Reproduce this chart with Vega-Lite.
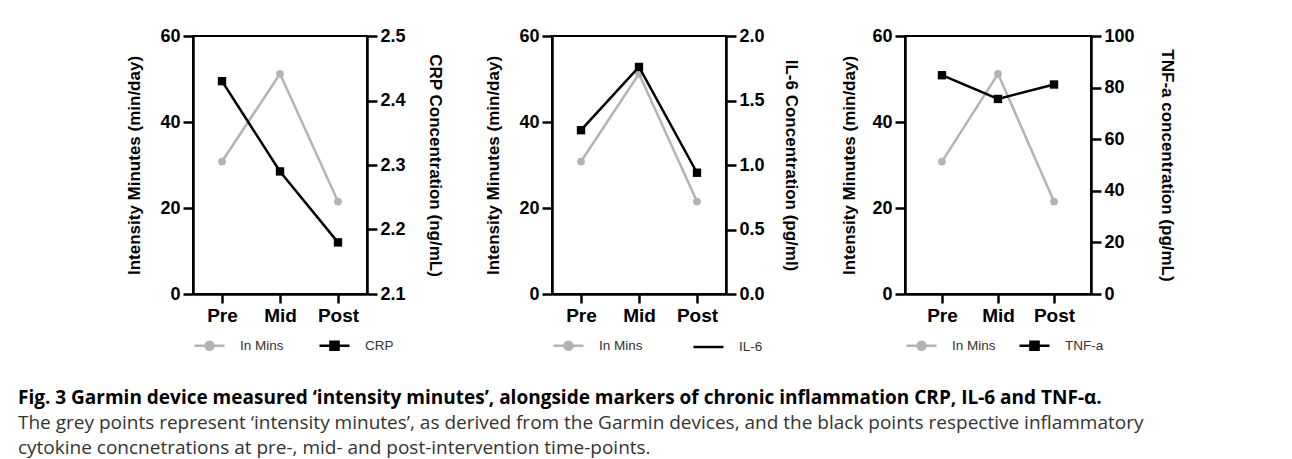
{
  "$schema": "https://vega.github.io/schema/vega-lite/v6.json",
  "padding": {"left": 17, "top": 26, "right": 5, "bottom": 2},
  "background": "white",
  "datasets": {
    "d": [
      {"panel": "CRP", "series": "In Mins", "time": "Pre", "value": 30.8},
      {"panel": "CRP", "series": "In Mins", "time": "Mid", "value": 51.2},
      {"panel": "CRP", "series": "In Mins", "time": "Post", "value": 21.5},
      {"panel": "CRP", "series": "CRP", "time": "Pre", "value": 2.43},
      {"panel": "CRP", "series": "CRP", "time": "Mid", "value": 2.29},
      {"panel": "CRP", "series": "CRP", "time": "Post", "value": 2.18},
      {"panel": "IL6", "series": "In Mins", "time": "Pre", "value": 30.8},
      {"panel": "IL6", "series": "In Mins", "time": "Mid", "value": 51.2},
      {"panel": "IL6", "series": "In Mins", "time": "Post", "value": 21.5},
      {"panel": "IL6", "series": "IL-6", "time": "Pre", "value": 1.27},
      {"panel": "IL6", "series": "IL-6", "time": "Mid", "value": 1.76},
      {"panel": "IL6", "series": "IL-6", "time": "Post", "value": 0.94},
      {"panel": "TNF", "series": "In Mins", "time": "Pre", "value": 30.8},
      {"panel": "TNF", "series": "In Mins", "time": "Mid", "value": 51.2},
      {"panel": "TNF", "series": "In Mins", "time": "Post", "value": 21.5},
      {"panel": "TNF", "series": "TNF-a", "time": "Pre", "value": 84.8},
      {"panel": "TNF", "series": "TNF-a", "time": "Mid", "value": 75.6},
      {"panel": "TNF", "series": "TNF-a", "time": "Post", "value": 81.2}
    ]
  },
  "title": {
    "text": "Fig. 3 Garmin device measured ‘intensity minutes’, alongside markers of chronic inflammation CRP, IL-6 and TNF-α.",
    "subtitle": [
      "The grey points represent ‘intensity minutes’, as derived from the Garmin devices, and the black points respective inflammatory",
      "cytokine concnetrations at pre-, mid- and post-intervention time-points."
    ],
    "orient": "bottom",
    "anchor": "start",
    "dx": -107,
    "offset": 33,
    "font": "Open Sans",
    "fontSize": 19,
    "fontWeight": "bold",
    "color": "#000",
    "subtitleFont": "Open Sans",
    "subtitleFontSize": 19,
    "subtitleFontWeight": "normal",
    "subtitleColor": "#333",
    "subtitlePadding": 6,
    "subtitleLineHeight": 25
  },
  "spacing": 38,
  "resolve": {"scale": {"color": "independent"}, "legend": {"color": "independent"}},
  "hconcat": [
    {
      "width": 174,
      "height": 258,
      "data": {"name": "d"},
      "transform": [{"filter": "datum.panel === 'CRP'"}],
      "encoding": {
        "x": {"field": "time", "type": "ordinal", "sort": ["Pre", "Mid", "Post"], "scale": {"type": "point", "padding": 0.5}, "axis": {"title": null, "labelAngle": 0}}
      },
      "layer": [
        {
          "transform": [{"filter": "datum.series === 'In Mins'"}],
          "mark": {"type": "line", "strokeWidth": 2.5, "point": {"filled": true, "size": 60}},
          "encoding": {
            "y": {"field": "value", "type": "quantitative", "scale": {"domain": [0, 60], "nice": false}, "axis": {"orient": "left", "title": "Intensity Minutes (min/day)", "values": [0, 20, 40, 60], "titlePadding": 16}},
            "color": {"field": "series", "type": "nominal", "scale": {"domain": ["In Mins", "CRP"], "range": ["#b3b3b3", "#000000"]},
              "legend": {"columnPadding": 30, "encode": {"symbols": {"update": {
                "shape": {"signal": "datum.value === 'In Mins' ? 'M-1,0H1M-0.27,0A0.27,0.27 0 1,1 0.27,0A0.27,0.27 0 1,1 -0.27,0Z' : 'M-1,0H1M-0.27,-0.27H0.27V0.27H-0.27Z'"},
                "fill": {"signal": "datum.value === 'In Mins' ? '#b3b3b3' : '#000000'"},
                "stroke": {"signal": "datum.value === 'In Mins' ? '#b3b3b3' : '#000000'"},
                "strokeWidth": {"value": 2.5},
                "size": {"value": 900}}}}}}
          }
        },
        {
          "transform": [{"filter": "datum.series !== 'In Mins'"}],
          "mark": {"type": "line", "strokeWidth": 2.5, "point": {"filled": true, "shape": "square", "size": 70}},
          "encoding": {
            "y": {"field": "value", "type": "quantitative", "scale": {"domain": [2.1, 2.5], "nice": false, "zero": false}, "axis": {"orient": "right", "title": "CRP Concentration (ng/mL)", "values": [2.1, 2.2, 2.3, 2.4, 2.5], "format": ".1f", "titleAngle": 90, "titlePadding": 20}},
            "color": {"field": "series", "type": "nominal"}
          }
        }
      ],
      "resolve": {"scale": {"y": "independent"}}
    },
    {
      "width": 174,
      "height": 258,
      "data": {"name": "d"},
      "transform": [{"filter": "datum.panel === 'IL6'"}],
      "encoding": {
        "x": {"field": "time", "type": "ordinal", "sort": ["Pre", "Mid", "Post"], "scale": {"type": "point", "padding": 0.5}, "axis": {"title": null, "labelAngle": 0}}
      },
      "layer": [
        {
          "transform": [{"filter": "datum.series === 'In Mins'"}],
          "mark": {"type": "line", "strokeWidth": 2.5, "point": {"filled": true, "size": 60}},
          "encoding": {
            "y": {"field": "value", "type": "quantitative", "scale": {"domain": [0, 60], "nice": false}, "axis": {"orient": "left", "title": "Intensity Minutes (min/day)", "values": [0, 20, 40, 60], "titlePadding": 16}},
            "color": {"field": "series", "type": "nominal", "scale": {"domain": ["In Mins", "IL-6"], "range": ["#b3b3b3", "#000000"]},
              "legend": {"columnPadding": 45, "encode": {"symbols": {"update": {
                "shape": {"signal": "datum.value === 'In Mins' ? 'M-1,0H1M-0.27,0A0.27,0.27 0 1,1 0.27,0A0.27,0.27 0 1,1 -0.27,0Z' : 'M-1,0H1'"},
                "fill": {"signal": "datum.value === 'In Mins' ? '#b3b3b3' : '#000000'"},
                "stroke": {"signal": "datum.value === 'In Mins' ? '#b3b3b3' : '#000000'"},
                "strokeWidth": {"value": 2.5},
                "size": {"value": 900}}}}}}
          }
        },
        {
          "transform": [{"filter": "datum.series !== 'In Mins'"}],
          "mark": {"type": "line", "strokeWidth": 2.5, "point": {"filled": true, "shape": "square", "size": 70}},
          "encoding": {
            "y": {"field": "value", "type": "quantitative", "scale": {"domain": [0, 2], "nice": false}, "axis": {"orient": "right", "title": "IL-6 Concentration (pg/ml)", "values": [0, 0.5, 1, 1.5, 2], "format": ".1f", "titleAngle": 90, "titlePadding": 17}},
            "color": {"field": "series", "type": "nominal"}
          }
        }
      ],
      "resolve": {"scale": {"y": "independent"}}
    },
    {
      "width": 186,
      "height": 258,
      "data": {"name": "d"},
      "transform": [{"filter": "datum.panel === 'TNF'"}],
      "encoding": {
        "x": {"field": "time", "type": "ordinal", "sort": ["Pre", "Mid", "Post"], "scale": {"type": "point", "padding": 0.66}, "axis": {"title": null, "labelAngle": 0}}
      },
      "layer": [
        {
          "transform": [{"filter": "datum.series === 'In Mins'"}],
          "mark": {"type": "line", "strokeWidth": 2.5, "point": {"filled": true, "size": 60}},
          "encoding": {
            "y": {"field": "value", "type": "quantitative", "scale": {"domain": [0, 60], "nice": false}, "axis": {"orient": "left", "title": "Intensity Minutes (min/day)", "values": [0, 20, 40, 60], "titlePadding": 13}},
            "color": {"field": "series", "type": "nominal", "scale": {"domain": ["In Mins", "TNF-a"], "range": ["#b3b3b3", "#000000"]},
              "legend": {"columnPadding": 18, "encode": {"symbols": {"update": {
                "shape": {"signal": "datum.value === 'In Mins' ? 'M-1,0H1M-0.27,0A0.27,0.27 0 1,1 0.27,0A0.27,0.27 0 1,1 -0.27,0Z' : 'M-1,0H1M-0.27,-0.27H0.27V0.27H-0.27Z'"},
                "fill": {"signal": "datum.value === 'In Mins' ? '#b3b3b3' : '#000000'"},
                "stroke": {"signal": "datum.value === 'In Mins' ? '#b3b3b3' : '#000000'"},
                "strokeWidth": {"value": 2.5},
                "size": {"value": 900}}}}}}
          }
        },
        {
          "transform": [{"filter": "datum.series !== 'In Mins'"}],
          "mark": {"type": "line", "strokeWidth": 2.5, "point": {"filled": true, "shape": "square", "size": 70}},
          "encoding": {
            "y": {"field": "value", "type": "quantitative", "scale": {"domain": [0, 100], "nice": false}, "axis": {"orient": "right", "title": "TNF-a concentration (pg/mL)", "values": [0, 20, 40, 60, 80, 100], "titleAngle": 90, "titlePadding": 23}},
            "color": {"field": "series", "type": "nominal"}
          }
        }
      ],
      "resolve": {"scale": {"y": "independent"}}
    }
  ],
  "config": {
    "view": {"stroke": "#000", "strokeWidth": 2},
    "axis": {
      "domainColor": "#000", "domainWidth": 2.5, "tickColor": "#000", "tickWidth": 2.5, "tickSize": 10,
      "labelFont": "Liberation Sans", "labelFontWeight": "bold", "labelColor": "#000", "labelPadding": 3,
      "titleFont": "Liberation Sans", "titleFontWeight": "bold", "titleFontSize": 17, "titleColor": "#000", "grid": false
    },
    "axisX": {"labelFontSize": 19, "tickSize": 9},
    "axisY": {"labelFontSize": 18},
    "legend": {
      "orient": "bottom", "direction": "horizontal", "title": null, "symbolSize": 900, "symbolStrokeWidth": 2.5,
      "labelOffset": 14, "offset": 4, "labelFontSize": 13.5, "labelFont": "Liberation Sans", "labelColor": "#333"
    }
  }
}
